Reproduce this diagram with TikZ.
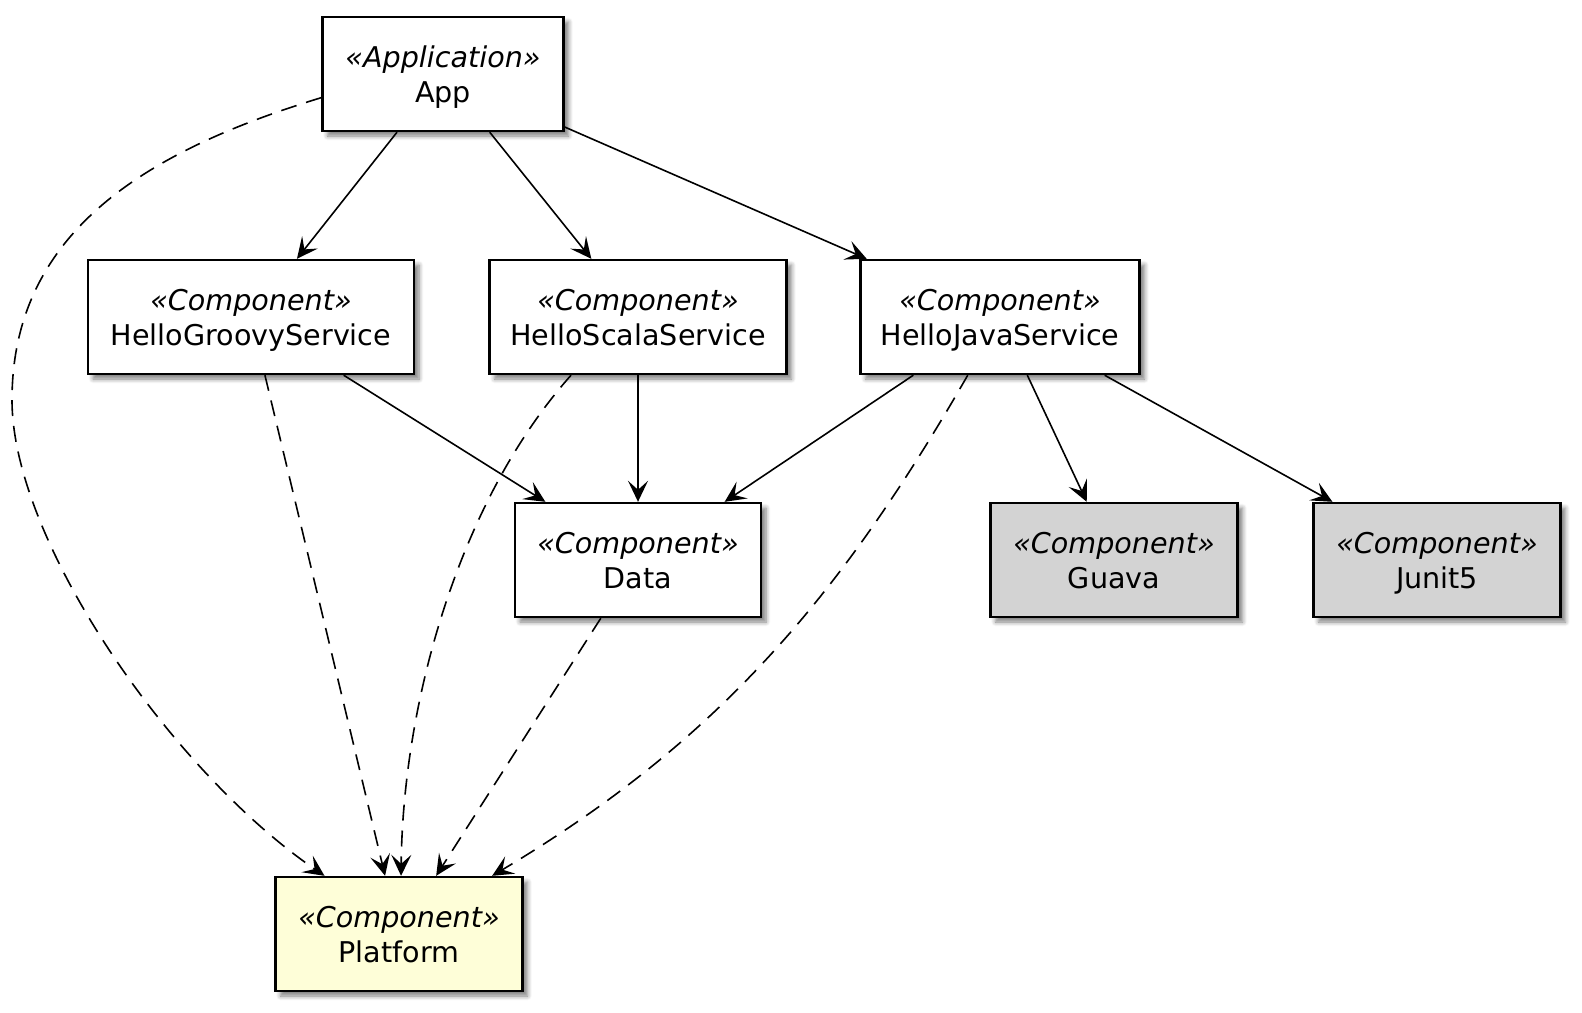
\documentclass[tikz,border=0pt]{standalone}
\usepackage{fontspec}
\setmainfont{DejaVu Sans}
\usetikzlibrary{arrows.meta}
\usetikzlibrary{shadows.blur}
\definecolor{libgray}{HTML}{D3D3D3}
\definecolor{platyellow}{HTML}{FEFED8}
\newcommand{\stereo}[2]{\rule{0pt}{16.25pt}\textit{«#1»}\\#2\strut}

\begin{document}
\begin{tikzpicture}[x=0.5pt,y=-0.5pt,
  comp/.style={draw,rectangle,line width=1.2pt,fill=white,align=center,
    minimum height=57pt,inner sep=0pt,
    font=\fontsize{14.3}{17.5}\selectfont,
    blur shadow={shadow xshift=2.5pt,shadow yshift=-2.5pt,shadow blur steps=6,shadow opacity=50}},
  uses/.style={-{Stealth[length=10.5pt,width=10pt,inset=4.5pt]},line width=0.8pt},
  needs/.style={uses,dash pattern=on 8pt off 5pt}]
  \useasboundingbox (0,0) rectangle (1582,1012);

  \node[comp,minimum width=120.5pt] (app) at (443,74) {\stereo{Application}{App}};
  \node[comp,minimum width=163pt] (groovy) at (251,317) {\stereo{Component}{HelloGroovyService}};
  \node[comp,minimum width=148.5pt] (scala) at (638,317) {\stereo{Component}{HelloScalaService}};
  \node[comp,minimum width=139.5pt] (java) at (1000,317) {\stereo{Component}{HelloJavaService}};
  \node[comp,minimum width=123pt] (data) at (638,560) {\stereo{Component}{Data}};
  \node[comp,minimum width=123.5pt,fill=libgray] (guava) at (1114,560) {\stereo{Component}{Guava}};
  \node[comp,minimum width=123.5pt,fill=libgray] (junit) at (1437,560) {\stereo{Component}{Junit5}};
  \node[comp,minimum width=123.5pt,fill=platyellow] (platform) at (399,934) {\stereo{Component}{Platform}};

  \draw[uses] (app) -- (groovy);
  \draw[uses] (app) -- (scala);
  \draw[uses] (app) -- (java);
  \draw[uses] (groovy) -- (data);
  \draw[uses] (scala) -- (data);
  \draw[uses] (java) -- (data);
  \draw[uses] (java) -- (guava);
  \draw[uses] (java) -- (junit);

  \draw[needs] (app.191) .. controls (150,150) and (12,230) .. (12,400)
    .. controls (12,540) and (170,770) .. (platform.142);
  \draw[needs] (groovy) -- (platform);
  \draw[needs] (scala.-139) .. controls (460,500) and (403,700) .. (platform.88);
  \draw[needs] (data) -- (platform);
  \draw[needs] (java.-119) .. controls (842,594) and (720,740) .. (platform.32);
\end{tikzpicture}
\end{document}
